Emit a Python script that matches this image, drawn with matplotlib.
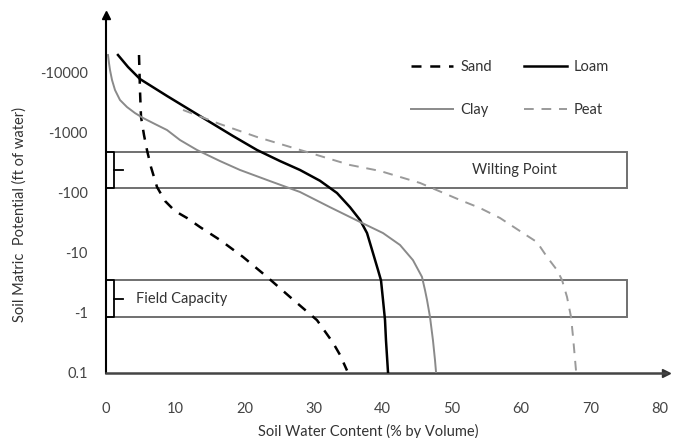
import numpy as np
import matplotlib
matplotlib.use("Agg")
import matplotlib.pyplot as plt
from matplotlib.patches import Rectangle

plt.rcParams['font.family'] = ['Lato', 'DejaVu Sans']

# soil water retention curves: water content (% vol) vs matric potential (ft of water, magnitude)
sand_x = [4.77, 4.91, 5.06, 5.49, 5.92, 6.50, 7.37, 8.53, 9.97, 11.71, 13.58, 16.47, 19.80,
          23.27, 26.59, 30.49, 32.80, 33.82, 34.83]
sand_y = [19950, 5210, 1850, 926, 521, 271, 126, 73.6, 50, 38.3, 27.1, 16.5, 8.6,
          4.0, 1.85, 0.76, 0.32, 0.2, 0.11]

loam_x = [1.73, 3.18, 4.91, 8.82, 13.58, 18.35, 21.82, 25.14, 28.03, 30.92, 33.38, 35.26,
          36.71, 37.72, 38.58, 39.31, 39.74, 40.03, 40.32, 40.46, 40.75]
loam_y = [19950, 12600, 7940, 4140, 1920, 891, 521, 341, 242, 160, 100, 58,
          35.5, 21.5, 10, 5.2, 3.5, 1.65, 0.76, 0.35, 0.104]

clay_x = [0.29, 0.43, 0.58, 0.87, 1.30, 2.02, 3.03, 4.19, 5.35, 7.08, 8.82, 10.69, 13.15,
          16.47, 19.36, 23.70, 28.03, 32.37, 36.71, 40.03, 42.49, 44.36, 45.66, 46.10,
          46.39, 46.82, 47.25, 47.54, 47.69]
clay_y = [19950, 14700, 11200, 7640, 5210, 3550, 2710, 2150, 1780, 1410, 1120, 764, 521,
          341, 242, 158, 104, 58, 32.9, 21.5, 13.6, 7.6, 4.0, 2.4,
          1.65, 0.86, 0.35, 0.165, 0.104]

peat_x = [11.13, 16.47, 21.82, 29.05, 35.26, 39.60, 45.38, 51.16, 54.05, 56.94, 60.26,
          62.28, 63.73, 65.17, 65.90, 66.62, 67.20, 67.49, 67.92]
peat_y = [2420, 1410, 858, 482, 293, 233, 147, 76.4, 56.2, 38.3, 21.5,
          15.2, 8.6, 5.2, 3.55, 1.85, 0.86, 0.40, 0.11]

# zones (x range, potential range)
zone_names = ["Wilting Point", "Field Capacity"]
zone_xmax = [75.3, 75.3]
zone_lo = [120, 0.85]
zone_hi = [480, 3.55]

y_ticks = [0.1, 1, 10, 100, 1000, 10000]
y_labels = ["0.1", "-1", "-10", "-100", "-1000", "-10000"]
x_ticks = [0, 10, 20, 30, 40, 50, 60, 70, 80]

fig = plt.figure(figsize=(6.8, 4.38), dpi=100)
ax = fig.add_axes([106/680, 65/438, 560/680, 358/438])

ax.set_yscale('log')
ax.set_xlim(0, 560/6.92)
ax.set_ylim(0.1, 10**(-1 + 358/60))

# boxes + bracket marks
for name, xm, lo, hi in zip(zone_names, zone_xmax, zone_lo, zone_hi):
    ax.add_patch(Rectangle((0, lo), xm, hi - lo, fill=False, edgecolor='#707070', lw=1.4, zorder=2))
    ax.plot([0.15, 1.15, 1.15, 0.15], [lo, lo, hi, hi], color='black', lw=1.3, zorder=3)
    mid = np.sqrt(lo * hi)
    ax.plot([1.15, 2.4], [mid, mid], color='black', lw=1.3, zorder=3)

ax.text(59, np.sqrt(zone_lo[0] * zone_hi[0]), zone_names[0], ha='center', va='center',
        fontsize=10.5, color='#333333')
ax.text(4.3, np.sqrt(zone_lo[1] * zone_hi[1]), zone_names[1], ha='left', va='center',
        fontsize=10.5, color='#333333')

l_sand, = ax.plot(sand_x, sand_y, color='black', lw=1.8, dashes=(4, 3.5), label='Sand', zorder=4)
l_loam, = ax.plot(loam_x, loam_y, color='black', lw=1.8, label='Loam', zorder=4)
l_clay, = ax.plot(clay_x, clay_y, color='#8a8a8a', lw=1.4, label='Clay', zorder=4)
l_peat, = ax.plot(peat_x, peat_y, color='#9a9a9a', lw=1.4, dashes=(5, 4), label='Peat', zorder=4)

ax.legend([l_sand, l_clay, l_loam, l_peat], ['Sand', 'Clay', 'Loam', 'Peat'], ncol=2,
          loc='upper left', bbox_to_anchor=((398 - 106) / 560, 1 - (47 - 15) / 358),
          frameon=False, fontsize=10.5, handlelength=2.9, handletextpad=0.5,
          columnspacing=2.2, labelspacing=2.0, labelcolor='#333333')

# axes styling
for s in ['top', 'right']:
    ax.spines[s].set_visible(False)
ax.spines['left'].set_color('black')
ax.spines['left'].set_linewidth(1.5)
ax.spines['bottom'].set_color('#444444')
ax.spines['bottom'].set_linewidth(1.8)
ax.plot(1, 0, '>', color='#333333', ms=6, transform=ax.transAxes, clip_on=False)
ax.plot(0, 1, '^', color='black', ms=6, transform=ax.transAxes, clip_on=False)

ax.set_yticks(y_ticks)
ax.set_yticklabels(y_labels)
ax.yaxis.set_minor_locator(matplotlib.ticker.NullLocator())
ax.set_xticks(x_ticks)
ax.tick_params(axis='both', length=0, labelsize=10.5, labelcolor='#444444')
ax.tick_params(axis='y', pad=13)
ax.tick_params(axis='x', pad=21)

fig.text(368/680, 1 - 431/438, "Soil Water Content (% by Volume)", ha='center', va='center',
         fontsize=10.5, color='#333333')
fig.text(20/680, 1 - 214/438, "Soil Matric  Potential (ft of water)", ha='center', va='center',
         rotation=90, fontsize=10.5, color='#333333')

fig.savefig("out.png", dpi=100)
